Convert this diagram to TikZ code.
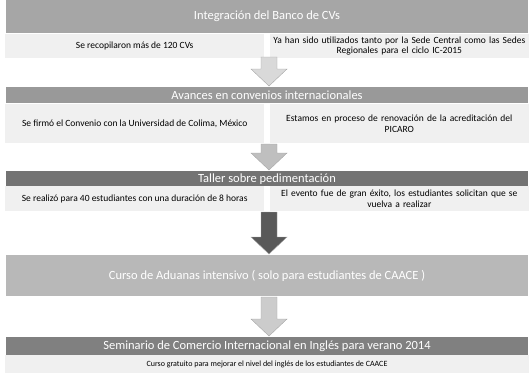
\documentclass[tikz,border=0pt]{standalone}
\usepackage{fontspec}
\setmainfont{Carlito}

% flecha gruesa hacia abajo: color, y inicial, y final
\newcommand{\flechaabajo}[3]{%
  \filldraw[draw=black!35, fill=#1] (261,#2) -- (277,#2) -- (277,#3-17) -- (287,#3-17)
    -- (269,#3) -- (251,#3-17) -- (261,#3-17) -- cycle;}

\begin{document}
\begin{tikzpicture}[x=1pt, y=-1pt,
    barra/.style={fill=#1, text=white, font=\fontsize{12.5}{14}\selectfont, minimum width=522pt, inner sep=0pt, anchor=north},
    nota/.style={fill=black!6, font=\fontsize{9.5}{10.5}\selectfont, align=center, inner sep=0pt, minimum width=259pt}]
    \useasboundingbox (0,0) rectangle (529,389);

    \node[barra=black!35, minimum height=33pt] (b1) at (267,0) {Integración del Banco de CVs};
    \node[nota, minimum height=24pt, anchor=north west] (n1i) at (5,34) {Se recopilaron más de 120 CVs};
    \node[nota, minimum height=24pt, anchor=north east, text width=259pt] (n1d) at (529,34) {Ya han sido utilizados tanto por la Sede Central como las Sedes\\ Regionales para el ciclo IC-2015};

    \node[barra=black!40, minimum height=16pt] (b2) at (267,87) {Avances en convenios internacionales};
    \node[nota, minimum height=39pt, anchor=north west] (n2i) at (5,104) {Se firmó el Convenio con la Universidad de Colima, México};
    \node[nota, minimum height=39pt, anchor=north east, text width=259pt] (n2d) at (529,104) {Estamos en proceso de renovación de la acreditación del\\ PICARO};

    \node[barra=black!55, minimum height=15pt] (b3) at (267,171) {Taller sobre pedimentación};
    \node[nota, minimum height=25pt, anchor=north west] (n3i) at (5,186) {Se realizó para 40 estudiantes con una duración de 8 horas};
    \node[nota, minimum height=25pt, anchor=north east, text width=259pt] (n3d) at (529,186) {El evento fue de gran éxito, los estudiantes solicitan que se\\ vuelva a realizar};

    \node[barra=black!28, minimum height=41pt] (b4) at (267,255) {Curso de Aduanas intensivo ( solo para estudiantes de CAACE )};

    \node[barra=black!50, minimum height=18pt] (b5) at (267,337) {Seminario de Comercio Internacional en Inglés para verano 2014};
    \node[nota, font=\fontsize{8}{9}\selectfont, minimum height=18pt, minimum width=524pt, anchor=north] (n5) at (267,355) {Curso gratuito para mejorar el nivel del inglés de los estudiantes de CAACE};

    % flechas entre bloques
    \flechaabajo{black!15}{57}{86}
    \flechaabajo{black!25}{144}{170}
    \flechaabajo{black!65}{212}{254}
    \flechaabajo{black!20}{297}{336}

\end{tikzpicture}
\end{document}
